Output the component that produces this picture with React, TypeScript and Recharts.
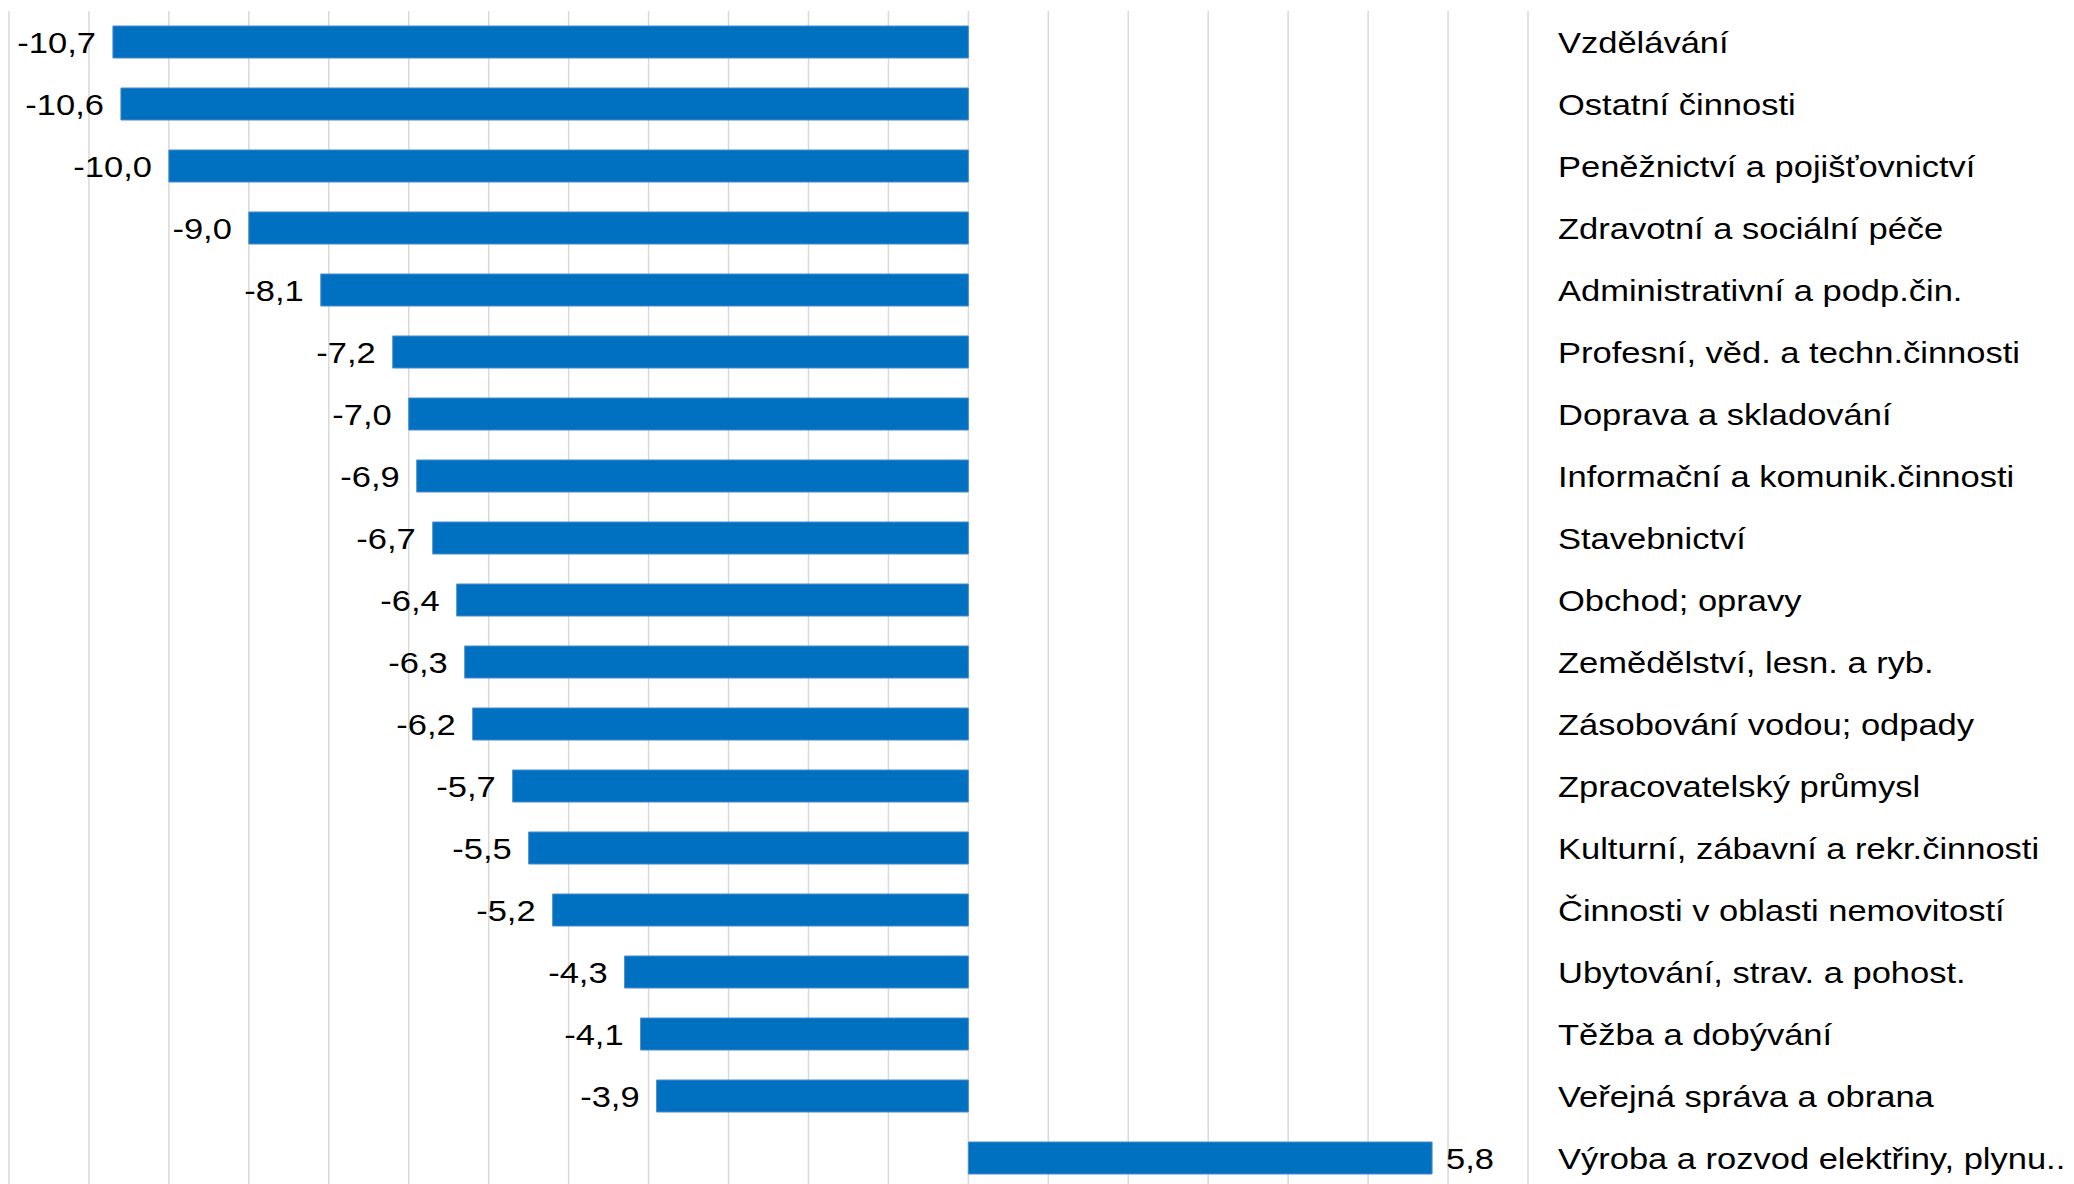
import React from "react";
import { BarChart, Bar, XAxis, YAxis, CartesianGrid, LabelList } from "recharts";

const categories = [
  "Vzdělávání",
  "Ostatní činnosti",
  "Peněžnictví a pojišťovnictví",
  "Zdravotní a sociální péče",
  "Administrativní a podp.čin.",
  "Profesní, věd. a techn.činnosti",
  "Doprava a skladování",
  "Informační a komunik.činnosti",
  "Stavebnictví",
  "Obchod; opravy",
  "Zemědělství, lesn. a ryb.",
  "Zásobování vodou; odpady",
  "Zpracovatelský průmysl",
  "Kulturní, zábavní a rekr.činnosti",
  "Činnosti v oblasti nemovitostí",
  "Ubytování, strav. a pohost.",
  "Těžba a dobývání",
  "Veřejná správa a obrana",
  "Výroba a rozvod elektřiny, plynu..",
];

const values = [
  -10.7, -10.6, -10.0, -9.0, -8.1, -7.2, -7.0, -6.9, -6.7, -6.4, -6.3, -6.2, -5.7, -5.5, -5.2, -4.3, -4.1,
  -3.9, 5.8,
];

const xTicks = [-12, -11, -10, -9, -8, -7, -6, -5, -4, -3, -2, -1, 0, 1, 2, 3, 4, 5, 6, 7];

const data = categories.map((name, i) => ({ name, value: values[i] }));

const FONT = "'Liberation Sans', Arial, sans-serif";
const FS = 30;
const SX = 1.15;

const fmt = (v: number) => v.toFixed(1).replace(".", ",");

const CategoryTick = (props: any) => {
  const { x, y, payload } = props;
  return (
    <text
      transform={`translate(${x},${y + 10.5}) scale(${SX},1)`}
      fontFamily={FONT}
      fontSize={FS}
      fill="#000"
      textAnchor="start"
    >
      {payload.value}
    </text>
  );
};

const ValueLabel = (props: any) => {
  const { x, y, width, height, value } = props;
  const left = Math.min(x, x + width);
  const right = Math.max(x, x + width);
  const cy = y + height / 2;
  const neg = value < 0;
  const tx = neg ? left - 17 : right + 14;
  return (
    <text
      transform={`translate(${tx},${cy + 10.5}) scale(${SX},1)`}
      fontFamily={FONT}
      fontSize={FS}
      fill="#000"
      textAnchor={neg ? "end" : "start"}
    >
      {fmt(value)}
    </text>
  );
};

export default function App() {
  return (
    <div style={{ position: "absolute", left: 0, top: 0, background: "#fff" }}>
      <BarChart
        width={2074}
        height={1190}
        data={data}
        layout="vertical"
        margin={{ top: 11, right: 0, bottom: 1, left: 9 }}
        barSize={32}
      >
        <CartesianGrid horizontal={false} stroke="#d9d9d9" strokeWidth={1.5} />
        <XAxis type="number" domain={[-12, 7]} ticks={xTicks} hide allowDataOverflow />
        <YAxis
          type="category"
          dataKey="name"
          orientation="right"
          width={546}
          axisLine={false}
          tickLine={false}
          tickSize={0}
          tickMargin={30}
          tick={<CategoryTick />}
          interval={0}
        />
        <Bar dataKey="value" fill="#0070C0" stroke="#4a8bcf" strokeWidth={1} isAnimationActive={false}>
          <LabelList dataKey="value" content={<ValueLabel />} />
        </Bar>
      </BarChart>
    </div>
  );
}
